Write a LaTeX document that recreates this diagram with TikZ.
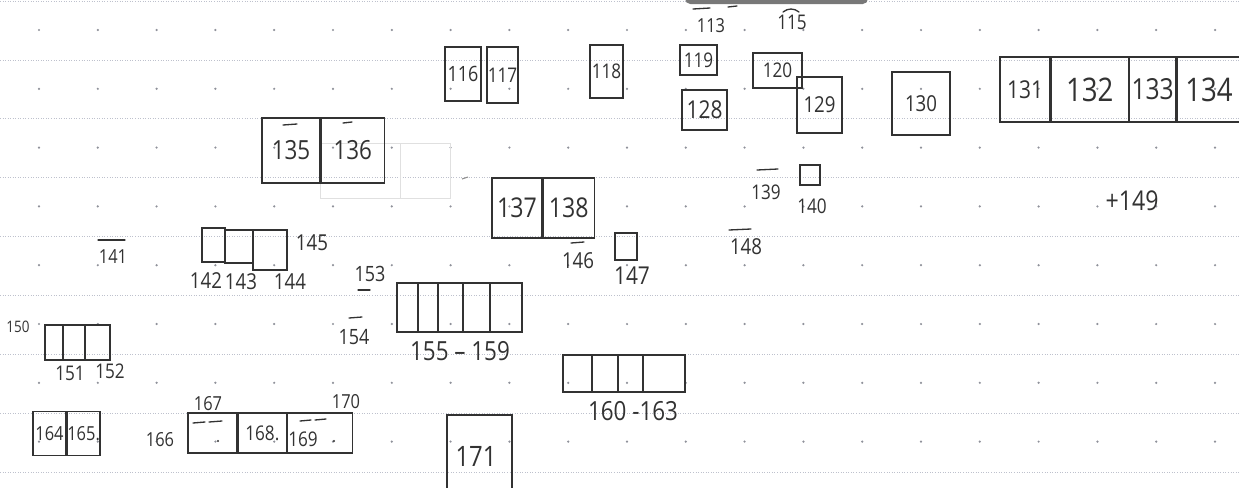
\documentclass[tikz,border=0pt]{standalone}
\usepackage{fontspec}
\setmainfont{Open Sans}[FakeStretch=0.85]
\usepackage{tikz}
\usetikzlibrary{positioning}
\definecolor{ink}{RGB}{50,50,50}
\definecolor{rule}{RGB}{190,193,205}
\definecolor{smudge}{RGB}{120,120,120}

\begin{document}
\begin{tikzpicture}[x=0.02cm, y=-0.02cm,
        cell/.style 2 args={draw=ink, line width=0.75pt, inner sep=0pt,
            minimum width=#1*0.02cm, minimum height=#2*0.02cm},
        hand/.style={text=ink, inner sep=0pt, font=\fontsize{#1}{#1}\selectfont},
        hand/.default=12,
        bar/.style={draw=ink, line width=0.75pt, line cap=round}]
        \clip (0,0) rectangle (1239,487);
        \fill[white] (0,0) rectangle (1239,487);
        % Paper
        \foreach \y in {1,59.9,...,480} {
            \draw[rule, densely dotted, line width=0.45pt] (0,\y) -- (1239,\y);
        }
        \foreach \i in {0,...,20} {
            \foreach \j in {0,...,7} {
                \fill[rule!75!black] ({39+58.8*\i},{30+58.8*\j}) circle (0.7pt);
            }
        }
        \fill[smudge, rounded corners=3pt] (685,-10) rectangle (868,4);
        % Top row
        \node[hand=11] (l113) at (711,26) {113};
        \draw[bar] (693,9) -- (710,8);
        \draw[bar] (728,7) -- (737,6);
        \node[hand=11.5] (l115) at (792,22) {115};
        \draw[bar] (783,12) .. controls (788,8) and (794,8) .. (799,12);
        \node[cell={36}{54}, hand=12] (b116) at (463,74) {116};
        \node[cell={31}{56}, hand=11.5] (b117) at (502.5,75) {117};
        \node[cell={33}{53}, hand=11.5] (b118) at (606.5,71.5) {118};
        \node[cell={37}{30}, hand=11.5] (b119) at (698.5,60) {119};
        \node[cell={45}{40}, hand=14] (b128) at (704.5,110) {128};
        \node[cell={49}{35}, hand=11.5] (b120) at (777.5,70.5) {120};
        \node[cell={45}{56}, hand=12.5] (b129) at (819.5,105) {129};
        \node[cell={58}{63}, hand=12.5] (b130) at (921,103.5) {130};
        \node[cell={50}{65}, hand=14] (b131) at (1025,89.5) {131};
        \node[cell={77}{65}, hand=18.5, right=0pt of b131] (b132) {132};
        \node[cell={46}{65}, hand=16.5, right=0pt of b132] (b133) {133};
        \node[cell={64}{65}, hand=18.5, right=0pt of b133] (b134) {134};
        % Second row
        \draw[black!12, line width=0.5pt] (320,143) rectangle (450,198);
        \draw[black!12, line width=0.5pt] (400,143) -- (400,198);
        \draw[black!45, line width=0.6pt] (462,179) -- (468,177);
        \node[cell={58}{65}, hand=15] (b135) at (291,150.5) {135};
        \node[cell={63}{65}, hand=15, right=0pt of b135] (b136) {136};
        \draw[bar] (283,125) -- (297,124);
        \draw[bar] (343,123) -- (352,122);
        \node[cell={50}{60}, hand=15.5] (b137) at (517,208) {137};
        \node[cell={51}{60}, hand=15.5, right=0pt of b137] (b138) {138};
        \node[hand=11.5] (l139) at (766,192) {139};
        \draw[bar] (757,170) -- (778,169);
        \node[cell={20}{20}] (b140) at (810,175) {};
        \node[hand=11.5] (l140) at (812,206) {140};
        \node[hand=15.5] (l149) at (1132,201) {+149};
        % Third row
        \node[hand=11] (l141) at (113,257) {141};
        \draw[bar] (98,240) -- (125,240);
        \node[cell={23}{34}] (b142) at (213.5,245) {};
        \node[cell={28}{33}] (b143) at (239,246.5) {};
        \node[cell={34}{40}] (b144) at (270,250) {};
        \node[hand=12.5] (l142) at (206,281) {142};
        \node[hand=12.5] (l143) at (241,282) {143};
        \node[hand=12.5] (l144) at (290,282) {144};
        \node[hand=12.5] (l145) at (312,243) {145};
        \node[hand=12.5] (l146) at (578,261) {146};
        \draw[bar] (571,243) -- (584,242);
        \node[cell={22}{27}] (b147) at (626,246.5) {};
        \node[hand=14] (l147) at (632,276) {147};
        \node[hand=12.5] (l148) at (746,247) {148};
        \draw[bar] (729,230) -- (751,229);
        \node[hand=12] (l153) at (370,274) {153};
        \draw[bar] (358,290) -- (370,290);
        \node[hand=12] (l154) at (354,337) {154};
        \draw[bar] (349,318) -- (362,317);
        \foreach \n/\cx/\w in {155/407.5/21, 156/428/20, 157/450.5/25, 158/476.5/27, 159/506/32} {
            \node[cell={\w}{49}] (c\n) at (\cx,307.5) {};
        }
        \node[hand=15] (l155) at (460,351) {155 -- 159};
        \node[hand=9] (l150) at (18,327) {150};
        \foreach \n/\cx/\w in {150/54/18, 151/74/22, 152/97.5/25} {
            \node[cell={\w}{35}] (c\n) at (\cx,342.5) {};
        }
        \node[hand=11.5] (l151) at (70,373) {151};
        \node[hand=11.5] (l152) at (110,371) {152};
        \foreach \n/\cx/\w in {160/577.5/29, 161/605/26, 162/630.5/25, 163/664/42} {
            \node[cell={\w}{37}] (c\n) at (\cx,373.5) {};
        }
        \node[hand=15] (l160) at (633,411) {160 -163};
        % Bottom row
        \node[cell={33}{44}, hand=11] (b164) at (49.5,433.5) {164};
        \node[cell={32}{44}, hand=11, right=0pt of b164] (b165) {165.};
        \node[hand=11] (l166) at (160,440) {166};
        \node[hand=11] (l167) at (208,404) {167};
        \node[hand=11] (l170) at (346,402) {170};
        \node[cell={49}{40}] (b167) at (212.5,433) {};
        \node[cell={48}{40}, hand=11.5, right=0pt of b167] (b168) {168.};
        \node[cell={65}{40}, right=0pt of b168] (b169) {};
        \node[hand=11.5] (l169) at (303,439) {169};
        \draw[bar] (193,423) -- (205,422);
        \draw[bar] (209,422) -- (222,421);
        \draw[bar] (300,421) -- (311,420);
        \draw[bar] (315,420) -- (326,419);
        \fill[ink] (218,441) circle (0.6pt);
        \fill[ink] (334,441) circle (0.6pt);
        \node[cell={65}{80}] (b171) at (479.5,455) {};
        \node[hand=16] (l171) at (476,456) {171};
    \end{tikzpicture}
\end{document}
